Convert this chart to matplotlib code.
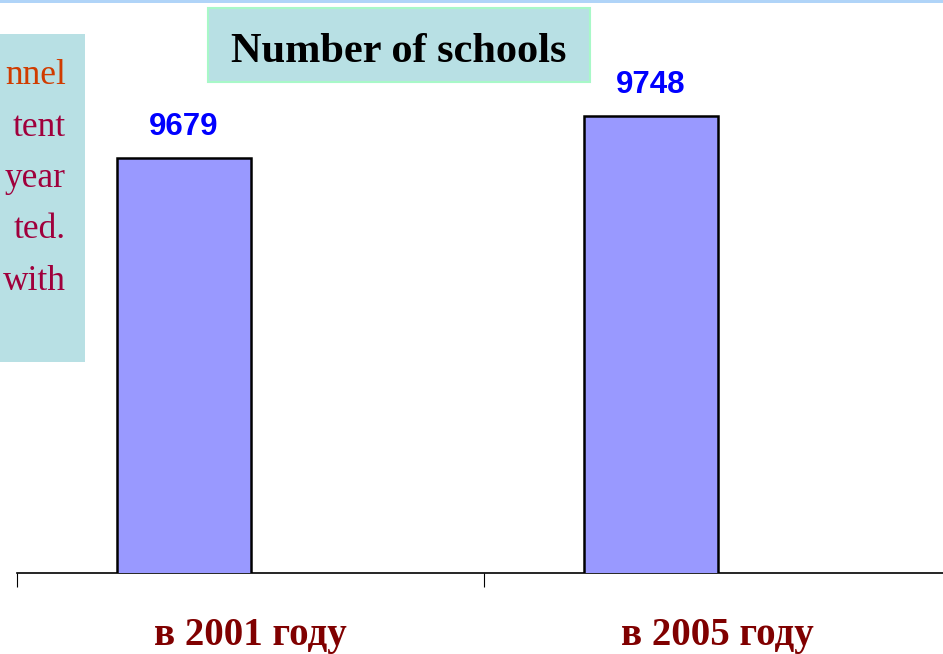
import matplotlib.pyplot as plt
from matplotlib.patches import Rectangle

# data
categories = ["в 2001 году", "в 2005 году"]
schools = [9679, 9748]
side_text = ["nnel", "tent", "year", "ted.", "with"]
side_colors = ["#D03C00", "#A0003C", "#A0003C", "#A0003C", "#A0003C"]

W, H = 943, 654
fig = plt.figure(figsize=(W / 100, H / 100), dpi=100)
fig.patch.set_facecolor("white")

# thin light-blue strip on top
fig.patches.append(Rectangle((0, 1 - 3 / H), 1, 3 / H, transform=fig.transFigure,
                             facecolor="#B0D4F8", edgecolor="none"))

# left info box (cut off by the frame)
fig.patches.append(Rectangle((0, 1 - 362 / H), 85 / W, (362 - 34) / H,
                             transform=fig.transFigure, facecolor="#B8E0E4",
                             edgecolor="none"))
for i, (t, c) in enumerate(zip(side_text, side_colors)):
    fig.text(66 / W, 1 - (84 + i * 51.5) / H, t, ha="right", va="baseline",
             fontsize=25.5, family="Liberation Serif", color=c)

# bar axes
ax = fig.add_axes([17 / W, 1 - 573 / H, 934 / W, 489 / H])
ax.set_xlim(0, 2)
ax.set_ylim(9000, 9800)
bw = 134 / 467
x = [i + 0.5 - bw for i in range(len(schools))]
bars = ax.bar(x, schools, width=bw, align="edge", color="#9999FF",
              edgecolor="black", linewidth=1.8, zorder=3)
for b, v in zip(bars, schools):
    ax.annotate(str(v), (b.get_x() + b.get_width() / 2, v), xytext=(0, 16.5),
                textcoords="offset points", ha="center", va="baseline",
                fontsize=22.5, fontweight="bold", family="Liberation Sans",
                color="#0000FF")

for s in ["left", "right", "top"]:
    ax.spines[s].set_visible(False)
ax.spines["bottom"].set_linewidth(1.2)
ax.set_yticks([])
ax.set_xticks([0, 1, 2])
ax.set_xticklabels([])
ax.tick_params(axis="x", which="major", length=10, width=0.8, direction="out")

# category labels
for i, c in enumerate(categories):
    ax.annotate(c, (i + 0.5, 0), xycoords=ax.get_xaxis_transform(),
                xytext=(0, -51.5), textcoords="offset points",
                ha="center", va="baseline", fontsize=28, fontweight="bold",
                family="Liberation Serif", color="#800000", annotation_clip=False)

# title box
fig.patches.append(Rectangle((208 / W, 1 - 82 / H), (590 - 208) / W, 74 / H,
                             transform=fig.transFigure, facecolor="#B8E0E4",
                             edgecolor="#A8F8C8", linewidth=1.5))
fig.text(399 / W, 1 - 62 / H, "Number of schools", ha="center", va="baseline",
         fontsize=30.5, fontweight="bold", family="Liberation Serif", color="black")

fig.savefig("out.png", dpi=100)
